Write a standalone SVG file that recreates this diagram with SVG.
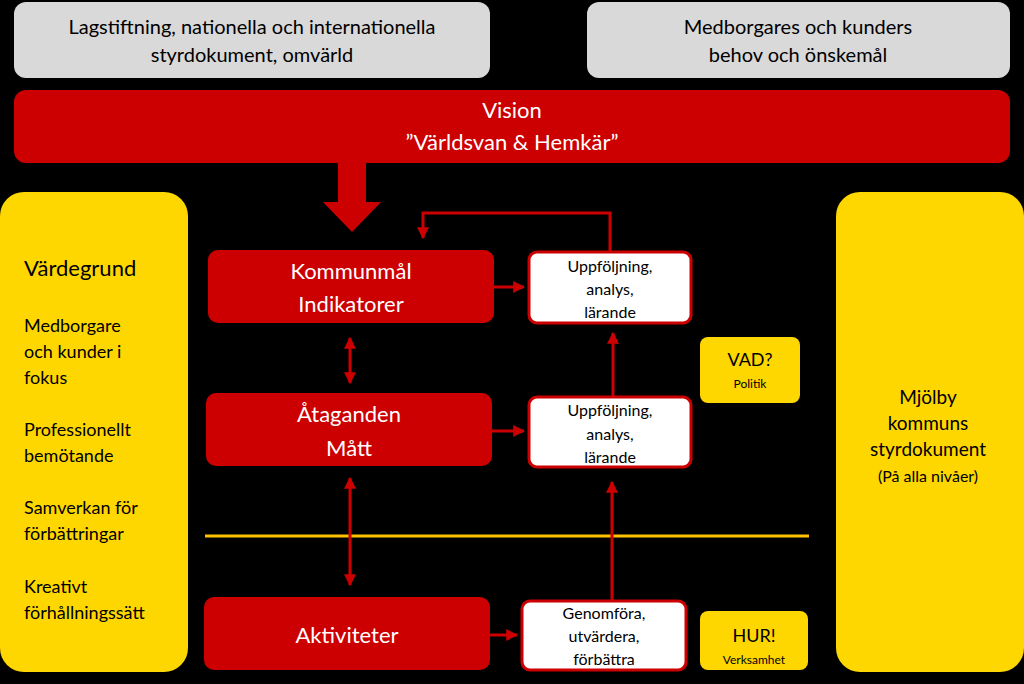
<svg xmlns="http://www.w3.org/2000/svg" width="1024" height="684" viewBox="0 0 1024 684">
<defs>
<style>
text{font-family:Lato,"Liberation Sans",sans-serif;text-anchor:middle}
.gray{fill:#D9D9D9}
.red{fill:#CC0000}
.yel{fill:#FFD700}
.wb{fill:#fff;stroke:#CC0000;stroke-width:3}
.c{stroke:#CC0000;stroke-width:3;fill:none}
.w{fill:#fff}
.k{fill:#000}
</style>
<marker id="ah" viewBox="0 0 10 10" refX="9" refY="5" markerWidth="4" markerHeight="4" orient="auto-start-reverse"><path d="M0,0L10,5L0,10z" fill="#CC0000"/></marker>
</defs>
<rect width="1024" height="684" fill="#000"/>
<g id="n1"><rect class="gray" x="14" y="2" width="476" height="76" rx="12"/><text class="k" x="252" y="34" font-size="20">Lagstiftning, nationella och internationella</text><text class="k" x="252" y="62" font-size="20">styrdokument, omvärld</text></g>
<g id="n2"><rect class="gray" x="587" y="2" width="423" height="76" rx="12"/><text class="k" x="798" y="34" font-size="20">Medborgares och kunders</text><text class="k" x="798" y="62" font-size="20">behov och önskemål</text></g>
<g id="vision"><rect class="red" x="14" y="90" width="996" height="73" rx="12"/><text class="w" x="512" y="118" font-size="22">Vision</text><text class="w" x="512" y="150" font-size="22">”Världsvan &amp; Hemkär”</text></g>
<g id="left"><rect class="yel" x="0" y="192" width="188" height="480" rx="24"/>
<g font-size="18" fill="#000" style="text-anchor:start">
<text x="24" y="276" font-size="22" style="text-anchor:start">Värdegrund</text>
<text x="24" y="332" style="text-anchor:start">Medborgare</text><text x="24" y="358" style="text-anchor:start">och kunder i</text><text x="24" y="384" style="text-anchor:start">fokus</text>
<text x="24" y="436" style="text-anchor:start">Professionellt</text><text x="24" y="462" style="text-anchor:start">bemötande</text>
<text x="24" y="514" style="text-anchor:start">Samverkan för</text><text x="24" y="540" style="text-anchor:start">förbättringar</text>
<text x="24" y="593" style="text-anchor:start">Kreativt</text><text x="24" y="619" style="text-anchor:start">förhållningssätt</text></g></g>
<g id="right"><rect class="yel" x="836" y="192" width="188" height="480" rx="24"/><text class="k" x="928" y="404" font-size="19">Mjölby</text><text class="k" x="928" y="430" font-size="19">kommuns</text><text class="k" x="928" y="456" font-size="19">styrdokument</text><text class="k" x="928" y="482" font-size="16">(På alla nivåer)</text></g>
<g id="bigarrow"><path class="red" d="M338,163H366V202H381L352,232L323,202H338Z"/></g>
<g id="kommun"><rect class="red" x="208" y="250" width="286" height="73" rx="10"/><text class="w" x="351" y="279" font-size="22">Kommunmål</text><text class="w" x="351" y="312" font-size="22">Indikatorer</text></g>
<g id="upp1"><rect class="wb" x="529" y="252" width="162" height="71" rx="8"/><text class="k" x="610" y="272" font-size="16">Uppföljning,</text><text class="k" x="610" y="295" font-size="16">analys,</text><text class="k" x="610" y="318" font-size="16">lärande</text></g>
<g id="atag"><rect class="red" x="206" y="393" width="286" height="73" rx="10"/><text class="w" x="349" y="422" font-size="22">Åtaganden</text><text class="w" x="349" y="456" font-size="22">Mått</text></g>
<g id="upp2"><rect class="wb" x="529" y="397" width="162" height="70" rx="8"/><text class="k" x="610" y="416" font-size="16">Uppföljning,</text><text class="k" x="610" y="440" font-size="16">analys,</text><text class="k" x="610" y="463" font-size="16">lärande</text></g>
<g id="akt"><rect class="red" x="204" y="597" width="286" height="73" rx="10"/><text class="w" x="347" y="643" font-size="22">Aktiviteter</text></g>
<g id="gen"><rect class="wb" x="522" y="601" width="164" height="69" rx="8"/><text class="k" x="604" y="619" font-size="16">Genomföra,</text><text class="k" x="604" y="642" font-size="16">utvärdera,</text><text class="k" x="604" y="665" font-size="16">förbättra</text></g>
<g id="vad"><rect class="yel" x="700" y="337" width="100" height="66" rx="8"/><text class="k" x="750" y="366" font-size="18">VAD?</text><text class="k" x="750" y="388" font-size="12">Politik</text></g>
<g id="hur"><rect class="yel" x="700" y="611" width="108" height="59" rx="8"/><text class="k" x="754" y="642" font-size="18">HUR!</text><text class="k" x="754" y="664" font-size="12">Verksamhet</text></g>
<line x1="205" y1="536" x2="809" y2="536" stroke="#FFC000" stroke-width="3"/>
<g id="connectors" class="c">
<path class="c" d="M610,252V213H423V238" marker-end="url(#ah)"/>
<path class="c" d="M494,287H524" marker-end="url(#ah)"/>
<path class="c" d="M350,338V383" marker-start="url(#ah)" marker-end="url(#ah)"/>
<path class="c" d="M492,431H524" marker-end="url(#ah)"/>
<path class="c" d="M350,478V585" marker-start="url(#ah)" marker-end="url(#ah)"/>
<path class="c" d="M613,397V333" marker-end="url(#ah)"/>
<path class="c" d="M612,601V482" marker-end="url(#ah)"/>
<path class="c" d="M490,635H517" marker-end="url(#ah)"/>
</g>
</svg>
